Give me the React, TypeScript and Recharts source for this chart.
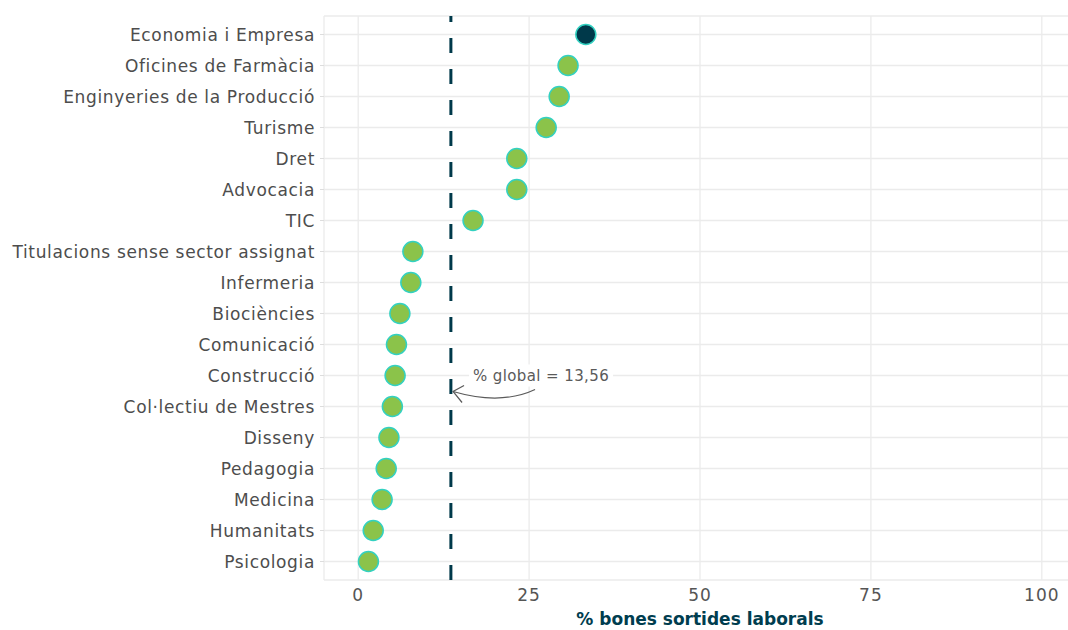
import { ScatterChart, Scatter, XAxis, YAxis, CartesianGrid, ReferenceLine, ReferenceDot, Cell, Label } from "recharts"

// titulacions, de dalt a baix
const titulacions = [
  "Economia i Empresa",
  "Oficines de Farmàcia",
  "Enginyeries de la Producció",
  "Turisme",
  "Dret",
  "Advocacia",
  "TIC",
  "Titulacions sense sector assignat",
  "Infermeria",
  "Biociències",
  "Comunicació",
  "Construcció",
  "Col·lectiu de Mestres",
  "Disseny",
  "Pedagogia",
  "Medicina",
  "Humanitats",
  "Psicologia",
]

const bonesSortides = [33.3, 30.7, 29.4, 27.5, 23.2, 23.2, 16.8, 8.0, 7.7, 6.1, 5.6, 5.4, 5.0, 4.5, 4.1, 3.5, 2.2, 1.5]

const xTicks = [0, 25, 50, 75, 100]
const globalPct = 13.56
const globalLabel = "% global = 13,56"

const data = titulacions.map((name, i) => ({ name, value: bonesSortides[i] }))

const FONT = "'DejaVu Sans', sans-serif"
const GREEN = "#8bc34a"
const DARK = "#00394a"

function GlobalNote(props: any) {
  const { cx, cy } = props
  if (cx == null || cy == null) return null
  const tipX = cx - 88
  const tipY = cy + 16
  const startX = cx - 6
  const startY = cy + 14
  return (
    <g>
      <rect x={cx - 72} y={cy - 11} width={144} height={22} fill="#ffffff" />
      <text
        x={cx}
        y={cy}
        textAnchor="middle"
        dominantBaseline="central"
        fill="#5a5a5a"
        fontSize={15}
        letterSpacing={0.4}
        fontFamily={FONT}
      >
        {globalLabel}
      </text>
      <path
        d={`M ${startX} ${startY} Q ${cx - 40} ${cy + 30} ${tipX} ${tipY}`}
        fill="none"
        stroke="#5a5a5a"
        strokeWidth={1.2}
      />
      <path
        d={`M ${tipX + 11} ${tipY - 6} L ${tipX} ${tipY} L ${tipX + 9} ${tipY + 11}`}
        fill="none"
        stroke="#5a5a5a"
        strokeWidth={1.2}
      />
    </g>
  )
}

export default function App() {
  return (
    <div style={{ position: "absolute", left: 0, top: 0, width: 1068, height: 630, overflow: "hidden", background: "#fff" }}>
      <ScatterChart width={1076} height={630} margin={{ top: 16, right: 0, bottom: 0, left: 0 }}>
        <CartesianGrid stroke="#ebebeb" strokeWidth={1.3} />
        <XAxis
          type="number"
          dataKey="value"
          domain={[-5, 105]}
          ticks={xTicks}
          allowDataOverflow
          height={50}
          axisLine={false}
          tickLine={false}
          tickSize={6}
          tickMargin={3}
          tick={{ fill: "#555555", fontSize: 17, letterSpacing: 1, fontFamily: FONT }}
        >
          <Label
            value="% bones sortides laborals"
            position="insideBottom"
            offset={5}
            fill="#003d4f"
            fontWeight="bold"
            fontSize={17}
            fontFamily={FONT}
          />
        </XAxis>
        <YAxis
          type="category"
          dataKey="name"
          reversed
          width={324}
          padding={{ top: 3, bottom: 3 }}
          axisLine={false}
          tickLine={{ stroke: "#dddddd" }}
          tickSize={4}
          tickMargin={5}
          interval={0}
          tick={{ fill: "#4d4d4d", fontSize: 17, letterSpacing: 0.65, fontFamily: FONT }}
        />
        <ReferenceLine x={globalPct} stroke={DARK} strokeWidth={3} strokeDasharray="15 16" />
        <ReferenceDot x={26.75} y="Construcció" r={0} shape={GlobalNote} />
        <Scatter
          data={data}
          isAnimationActive={false}
          shape={(p: any) => (
            <circle cx={p.cx} cy={p.cy} r={10} fill={p.fill} stroke="#33d1c1" strokeWidth={1.5} />
          )}
        >
          {data.map((d, i) => (
            <Cell key={d.name} fill={i === 0 ? DARK : GREEN} />
          ))}
        </Scatter>
      </ScatterChart>
    </div>
  )
}
